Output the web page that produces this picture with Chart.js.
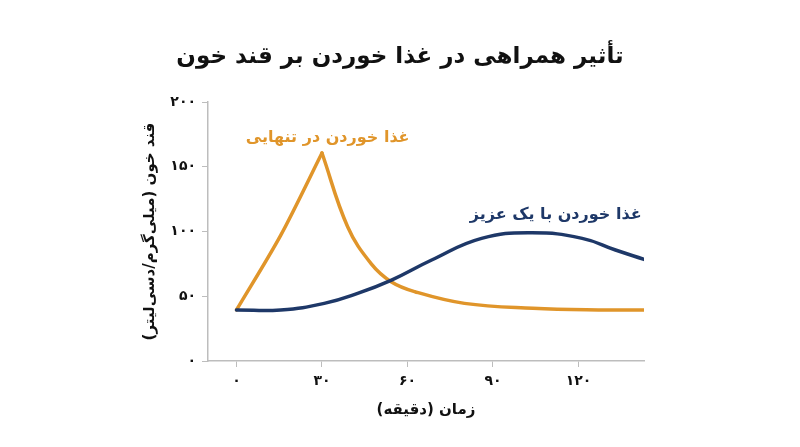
<!DOCTYPE html>
<html><head><meta charset="utf-8">
<script src="https://cdn.jsdelivr.net/npm/chart.js@4"></script>
<style>html,body{margin:0;background:#fff}#c{display:block}</style>
</head><body>
<canvas id="c" width="800" height="447"></canvas>
<script>
const xTicks = [0, 30, 60, 90, 120];
const yTicks = [0, 50, 100, 150, 200];
const faDigits = n => String(n).replace(/\d/g, d => '۰۱۲۳۴۵۶۷۸۹'[d]);

// تنها: rise then decay (split at the peak so the corner stays sharp)
const aloneRiseX = [0, 15.5, 30];
const aloneRiseY = [39.4, 97, 160.6];
const aloneFallX = [30, 39, 47.3, 54.4, 62.6, 80, 104, 127, 143];
const aloneFallY = [160.6, 103.7, 75, 61, 53.5, 44.5, 40.7, 39.4, 39.4];
// با یک عزیز
const togetherX = [0, 15.5, 30.8, 42.5, 54.4, 68.5, 86, 103.7, 121.3, 133, 143];
const togetherY = [39.4, 39.4, 44.5, 52.2, 62.5, 78, 94.7, 99, 94.7, 85.7, 78.5];

const ORANGE = '#E0952A', NAVY = '#1E3868', INK = '#111';
const pts = (xs, ys) => xs.map((x, i) => ({x, y: ys[i]}));
const font = 'DejaVu Sans';

const textPlugin = {
  id: 'texts',
  afterDraw(chart) {
    const {ctx} = chart;
    const x = chart.scales.x, y = chart.scales.y;
    ctx.save();
    ctx.textAlign = 'center';
    ctx.textBaseline = 'middle';
    ctx.direction = 'rtl';
    ctx.fillStyle = INK;
    ctx.font = `bold 23px "${font}"`;
    ctx.fillText('تأثیر همراهی در غذا خوردن بر قند خون', 400, 57);
    ctx.font = `bold 15px "${font}"`;
    ctx.fillText('زمان (دقیقه)', (x.left + x.right) / 2, 410);
    ctx.save();
    ctx.translate(150, (y.top + y.bottom) / 2);
    ctx.rotate(-Math.PI / 2);
    ctx.fillText('قند خون (میلی‌گرم/دسی‌لیتر)', 0, 0);
    ctx.restore();
    ctx.font = `bold 16px "${font}"`;
    ctx.fillStyle = ORANGE;
    ctx.fillText('غذا خوردن در تنهایی', x.getPixelForValue(32), y.getPixelForValue(172));
    ctx.fillStyle = NAVY;
    ctx.fillText('غذا خوردن با یک عزیز', x.getPixelForValue(112), y.getPixelForValue(113));
    ctx.restore();
  }
};

const line = (data, color, tension) => ({
  data, borderColor: color, borderWidth: 3.5, pointRadius: 0, fill: false,
  borderCapStyle: 'round', borderJoinStyle: 'round', tension
});

new Chart(document.getElementById('c'), {
  type: 'line',
  data: {
    datasets: [
      line(pts(togetherX, togetherY), NAVY, 0.45),
      line(pts(aloneRiseX, aloneRiseY), ORANGE, 0.3),
      line(pts(aloneFallX, aloneFallY), ORANGE, 0.4)
    ]
  },
  options: {
    responsive: false,
    animation: false,
    layout: {padding: {top: 102, right: 156, left: 0, bottom: 0}},
    plugins: {legend: {display: false}, tooltip: {enabled: false}},
    scales: {
      x: {
        type: 'linear', min: -10, max: 143,
        afterBuildTicks: s => { s.ticks = xTicks.map(v => ({value: v})); },
        afterFit: s => { s.height = 86; },
        border: {color: '#bdbdbd', width: 1.5},
        grid: {drawOnChartArea: false, color: '#bdbdbd', tickLength: 6},
        ticks: {color: INK, font: {family: font, size: 14, weight: 'bold'}, padding: 6,
          callback: v => faDigits(v)}
      },
      y: {
        min: 0, max: 200,
        afterBuildTicks: s => { s.ticks = yTicks.map(v => ({value: v})); },
        afterFit: s => { s.width = 208; },
        border: {color: '#bdbdbd', width: 1.5},
        grid: {drawOnChartArea: false, color: '#bdbdbd', tickLength: 6},
        ticks: {color: INK, font: {family: font, size: 14, weight: 'bold'}, padding: 6,
          callback: v => faDigits(v)}
      }
    }
  },
  plugins: [textPlugin]
});
</script>
</body></html>
